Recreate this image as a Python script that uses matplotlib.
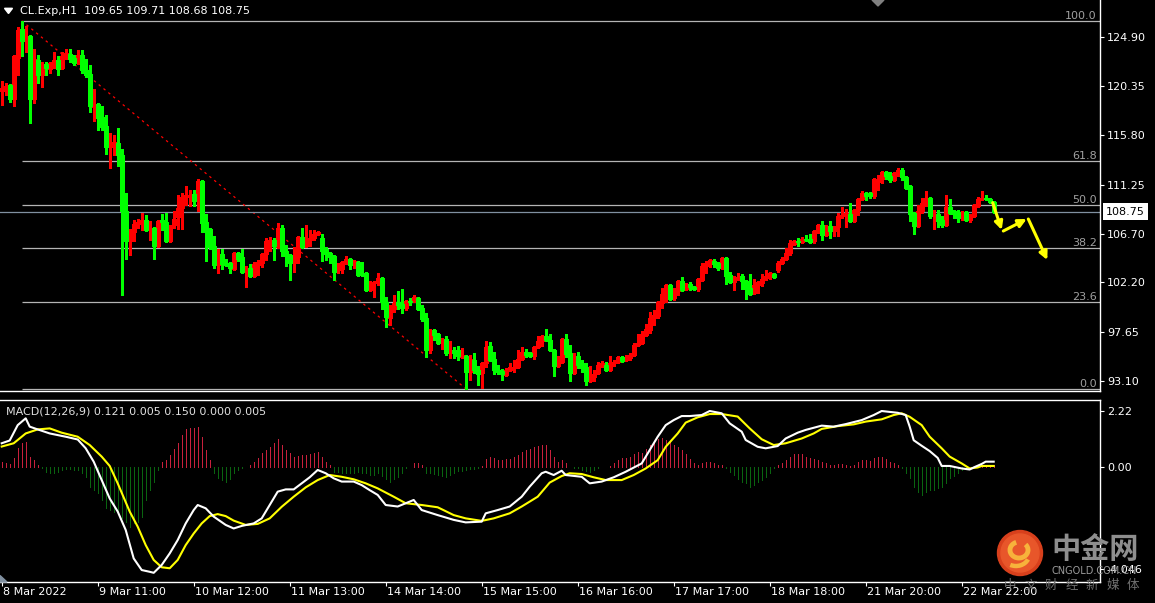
import numpy as np
import matplotlib.pyplot as plt
import matplotlib.transforms as mtransforms
from matplotlib.patches import Circle, Polygon, Arc

W, H = 1155, 603

# ---- H1 candles, CL.Exp, 8 Mar 2022 -> 22 Mar 2022 ----
opens = [
    119.9, 120.2, 120.5, 119.2, 123.0, 125.6, 124.5, 125.0, 119.2, 122.8,
    121.4, 122.4, 121.9, 122.4, 122.8, 122.0, 123.0, 123.3, 123.0, 122.6,
    123.2, 121.8, 121.5, 118.4, 118.7, 117.5, 116.7, 114.7, 115.1, 115.1,
    114.0, 108.8, 106.0, 106.9, 107.6, 107.6, 108.0, 107.1, 107.2, 105.6,
    108.0, 107.8, 106.0, 107.5, 108.2, 109.1, 110.1, 110.1, 110.4, 109.7,
    111.6, 107.8, 107.1, 105.6, 103.8, 104.8, 104.0, 104.0, 103.4, 104.9,
    104.5, 103.2, 103.5, 102.8, 103.8, 104.0, 104.8, 105.9, 106.1, 105.5,
    107.2, 105.1, 104.7, 104.0, 104.5, 106.4, 105.6, 106.1, 106.3, 106.7,
    106.3, 105.3, 104.9, 104.6, 103.3, 103.4, 104.0, 104.4, 103.9, 104.1,
    103.0, 103.1, 101.5, 102.1, 102.2, 102.6, 100.4, 98.9, 99.7, 100.4,
    100.2, 99.8, 100.5, 100.5, 100.75, 99.8, 98.9, 95.9, 97.8, 97.4,
    96.65, 97.0, 95.7, 95.9, 95.9, 95.3, 95.4, 93.9, 95.05, 94.1,
    93.8, 94.7, 96.3, 95.1, 94.1, 94.0, 93.6, 94.1, 94.3, 94.4,
    95.15, 95.8, 95.65, 95.4, 96.2, 96.75, 97.2, 96.9, 95.95, 94.5,
    94.8, 97.0, 95.7, 93.8, 95.4, 94.75, 94.35, 93.1, 93.45, 93.8,
    94.6, 94.6, 94.1, 94.7, 94.8, 95.3, 95.0, 95.2, 95.45, 96.45,
    96.6, 97.35, 97.8, 98.9, 99.05, 100.3, 101.05, 101.98, 100.75, 101.36,
    102.3, 101.6, 102.04, 101.8, 101.58, 102.44, 103.73, 103.98, 104.2, 103.98,
    103.52, 104.44, 102.9, 102.2, 102.75, 102.81, 102.35, 101.67, 101.2, 101.98,
    102.13, 102.6, 102.66, 103.0, 103.37, 103.98, 104.35, 104.9, 105.74, 106.04,
    105.9, 106.2, 106.24, 105.99, 106.82, 107.53, 106.54, 107.44, 106.91, 107.31,
    108.36, 108.45, 108.55, 107.9, 108.92, 109.9, 110.46, 110.46, 110.15, 111.53,
    111.75, 112.37, 112.06, 111.69, 112.3, 112.61, 111.93, 111.07, 108.61, 107.38,
    108.76, 109.38, 109.99, 108.36, 108.55, 107.99, 107.53, 109.16, 108.76, 108.67,
    108.15, 108.7, 107.99, 108.36, 109.22, 109.93, 109.99, 109.9, 109.65,
]
highs = [
    120.8, 120.6, 120.5, 123.2, 125.8, 126.4, 125.9, 125.1, 123.8, 123.2,
    122.6, 122.6, 122.6, 123.5, 123.1, 123.5, 123.8, 123.8, 123.2, 123.7,
    123.7, 122.9, 122.3, 120.1, 118.8, 118.5, 117.7, 116.0, 115.8, 116.5,
    114.5, 110.5, 107.1, 108.0, 108.1, 108.6, 108.4, 107.9, 107.2, 108.0,
    108.5, 108.6, 107.5, 108.8, 110.3, 110.5, 111.1, 110.7, 110.7, 111.8,
    111.6, 108.5, 107.1, 106.5, 105.3, 105.3, 104.4, 104.0, 104.9, 104.9,
    105.3, 103.7, 103.9, 104.1, 104.3, 104.9, 106.3, 106.4, 106.3, 107.7,
    107.5, 105.7, 104.8, 105.5, 106.5, 107.2, 107.5, 107.0, 107.0, 106.85,
    106.7, 105.5, 104.9, 104.7, 104.0, 104.1, 104.6, 104.4, 104.3, 104.2,
    104.1, 103.1, 102.2, 102.2, 103.1, 102.6, 100.8, 100.1, 101.0, 101.4,
    101.6, 100.5, 100.75, 101.05, 100.75, 100.1, 99.4, 97.8, 97.9, 97.4,
    97.0, 97.2, 96.8, 96.2, 96.3, 96.1, 95.5, 95.5, 95.7, 94.5,
    94.7, 96.8, 96.65, 95.8, 94.6, 94.2, 94.3, 94.7, 95.05, 95.9,
    96.2, 96.0, 95.7, 96.35, 97.2, 97.35, 97.9, 97.4, 95.95, 95.4,
    96.96, 97.4, 96.4, 95.7, 95.8, 95.0, 94.75, 94.5, 94.1, 94.8,
    94.9, 94.8, 95.4, 95.0, 95.4, 95.4, 95.5, 95.7, 96.6, 97.4,
    97.7, 98.35, 99.45, 99.6, 100.45, 101.7, 102.07, 102.04, 101.67, 102.35,
    102.66, 102.13, 102.2, 101.9, 102.5, 103.98, 104.2, 104.38, 104.38, 104.04,
    104.44, 104.44, 103.15, 102.75, 103.06, 102.97, 102.35, 102.97, 102.5, 102.3,
    102.97, 103.37, 103.15, 103.06, 104.13, 104.53, 105.37, 106.14, 106.04, 106.3,
    106.36, 106.6, 106.67, 107.07, 107.62, 107.84, 107.53, 107.84, 107.44, 108.61,
    109.16, 108.98, 109.53, 108.98, 109.99, 110.61, 110.46, 110.46, 111.84, 112.15,
    112.52, 112.52, 112.37, 112.37, 112.77, 112.77, 111.99, 111.13, 108.61, 109.38,
    109.99, 110.67, 110.06, 108.92, 108.92, 108.3, 110.3, 109.9, 108.92, 108.92,
    108.82, 108.76, 108.55, 109.44, 110.06, 110.67, 110.3, 109.99, 109.71,
]
lows = [
    118.6, 119.5, 118.9, 118.5, 121.4, 123.1, 123.5, 116.9, 118.8, 120.6,
    120.3, 121.4, 121.6, 122.0, 121.4, 121.9, 122.9, 122.6, 122.3, 122.4,
    121.6, 121.2, 118.0, 117.1, 116.3, 116.3, 114.1, 112.8, 114.0, 113.0,
    101.0, 104.4, 104.7, 106.0, 107.2, 107.0, 107.0, 106.1, 104.4, 105.6,
    107.0, 105.9, 106.0, 107.2, 107.1, 107.1, 109.4, 109.3, 109.3, 108.8,
    106.9, 104.2, 105.3, 103.5, 103.1, 103.4, 103.7, 103.1, 103.4, 104.2,
    103.1, 101.8, 102.8, 102.8, 102.9, 103.6, 104.3, 105.1, 104.3, 105.4,
    104.6, 103.7, 102.4, 103.2, 104.0, 105.5, 105.5, 105.6, 106.1, 106.6,
    104.2, 104.3, 104.0, 102.4, 103.1, 103.1, 103.9, 103.4, 103.5, 102.8,
    102.8, 101.4, 101.5, 100.8, 102.0, 99.7, 98.1, 98.3, 99.5, 99.7,
    99.4, 99.6, 100.1, 100.45, 99.7, 98.6, 95.3, 95.7, 96.9, 96.6,
    96.0, 95.5, 95.2, 95.2, 95.05, 95.2, 92.37, 93.2, 93.8, 92.7,
    92.4, 94.4, 94.9, 93.7, 93.7, 93.2, 93.5, 94.0, 93.9, 94.3,
    95.05, 95.3, 95.3, 95.15, 96.2, 96.3, 96.75, 95.9, 93.5, 94.4,
    94.8, 95.3, 93.05, 93.7, 94.3, 93.9, 92.7, 92.95, 93.05, 93.7,
    94.4, 94.1, 94.1, 94.45, 94.75, 94.95, 94.95, 95.0, 95.35, 96.3,
    96.55, 97.25, 97.5, 98.3, 98.9, 99.8, 100.35, 100.6, 100.6, 101.05,
    101.5, 101.5, 101.5, 101.45, 101.4, 102.3, 103.06, 103.6, 103.6, 103.3,
    103.52, 102.07, 102.2, 101.52, 102.38, 101.61, 100.68, 101.15, 101.2, 101.2,
    101.9, 102.44, 102.5, 102.69, 103.12, 103.98, 104.29, 104.75, 105.61, 105.6,
    105.84, 106.05, 105.84, 105.84, 106.76, 106.14, 106.45, 106.3, 106.51, 106.51,
    108.15, 107.31, 107.75, 107.84, 108.45, 109.84, 109.84, 110.0, 110.0, 110.76,
    111.38, 111.75, 111.47, 111.63, 112.06, 111.63, 110.83, 107.84, 106.67, 107.28,
    108.61, 109.28, 108.15, 107.13, 107.31, 107.28, 107.44, 108.52, 108.15, 107.75,
    107.93, 107.99, 107.78, 108.3, 109.13, 109.84, 109.84, 109.53, 108.68,
]
closes = [
    120.2, 120.4, 119.2, 123.1, 125.5, 124.5, 124.9, 119.2, 122.9, 121.4,
    122.4, 122.0, 122.5, 122.8, 121.9, 123.1, 123.4, 122.9, 122.5, 123.2,
    121.8, 121.4, 118.5, 118.7, 117.4, 116.6, 114.7, 115.1, 115.2, 114.0,
    108.8, 106.0, 107.0, 107.6, 107.8, 108.0, 107.0, 107.2, 105.6, 107.9,
    107.8, 106.0, 107.4, 108.1, 109.1, 110.1, 110.3, 110.3, 109.7, 111.6,
    107.7, 106.9, 105.5, 103.8, 104.8, 103.9, 103.8, 103.5, 104.9, 104.4,
    103.2, 103.5, 102.8, 103.9, 104.1, 104.8, 106.0, 106.1, 105.6, 107.2,
    105.1, 104.6, 104.0, 104.6, 106.4, 105.5, 106.1, 106.3, 106.7, 106.85,
    105.1, 104.8, 104.5, 103.2, 103.6, 104.1, 104.4, 103.8, 104.2, 102.9,
    102.9, 101.5, 102.2, 102.2, 102.6, 100.4, 99.0, 99.7, 100.3, 100.1,
    99.8, 100.5, 100.35, 100.85, 99.75, 98.8, 95.9, 97.8, 97.3, 96.6,
    96.95, 95.7, 95.9, 95.7, 95.4, 95.5, 93.9, 95.1, 94.1, 93.7,
    94.7, 96.2, 95.05, 94.1, 93.9, 93.7, 94.1, 94.35, 94.4, 95.15,
    95.75, 95.5, 95.4, 96.2, 96.8, 97.2, 96.85, 95.9, 94.5, 94.9,
    96.96, 95.6, 93.8, 95.4, 94.6, 94.3, 93.1, 93.5, 93.75, 94.6,
    94.75, 94.1, 94.75, 94.85, 95.3, 94.95, 95.2, 95.5, 96.45, 96.6,
    97.45, 97.9, 98.9, 99.2, 100.35, 101.1, 101.98, 100.65, 101.4, 102.3,
    101.5, 102.07, 101.73, 101.6, 102.5, 103.73, 103.98, 104.23, 103.92, 103.52,
    104.44, 102.81, 102.2, 102.66, 102.81, 102.29, 101.58, 101.15, 101.98, 102.2,
    102.53, 102.75, 103.06, 102.69, 103.98, 104.35, 104.9, 105.83, 105.98, 105.9,
    106.2, 106.14, 105.93, 106.91, 107.53, 106.6, 107.44, 106.91, 107.31, 108.36,
    108.45, 108.61, 107.9, 108.92, 109.93, 110.46, 110.21, 110.15, 111.75, 111.75,
    112.37, 112.0, 111.63, 112.3, 112.61, 111.93, 110.92, 108.52, 107.38, 108.76,
    109.53, 109.99, 108.36, 108.55, 107.9, 107.53, 109.16, 108.61, 108.55, 108.15,
    108.7, 107.99, 108.45, 109.32, 109.93, 109.99, 109.93, 109.6, 108.75,
]

# ---- MACD(12,26,9): white / yellow lines read at turning points, histogram per bar ----
dif_idx = [0, 2, 4, 6, 7, 9, 12, 16, 19, 21, 23, 25, 27, 29, 31, 33, 35, 37, 38, 40,
           42, 44, 46, 48, 49, 51, 53, 56, 58, 60, 63, 65, 67, 69, 71, 73, 75, 77, 79, 81,
           83, 85, 88, 90, 92, 94, 96, 99, 103, 105, 109, 113, 116, 120, 121, 124, 127, 130, 132, 135,
           136, 138, 140, 141, 145, 147, 150, 153, 156, 160, 162, 164, 166, 168, 170, 172, 175, 177, 180, 182,
           185, 186, 189, 191, 194, 196, 199, 201, 205, 208, 211, 215, 218, 220, 224, 226, 227, 228, 230, 232,
           234, 235, 237, 240, 242, 243, 245, 246, 248]
dif_vals = [0.93, 1.04, 1.65, 1.92, 1.59, 1.48, 1.32, 1.19, 1.08, 0.73, 0.20, -0.53, -1.26, -1.78, -2.51, -3.64, -4.10, -4.17, -4.21, -3.90,
            -3.44, -2.91, -2.25, -1.72, -1.52, -1.65, -1.98, -2.31, -2.45, -2.35, -2.25, -2.05, -1.52, -0.99, -0.90, -0.90, -0.66, -0.42, -0.13, -0.26,
            -0.46, -0.59, -0.59, -0.73, -0.93, -1.12, -1.52, -1.58, -1.32, -1.72, -1.92, -2.11, -2.21, -2.18, -1.85, -1.72, -1.58, -1.19, -0.79, -0.26,
            -0.20, -0.33, -0.16, -0.33, -0.40, -0.66, -0.59, -0.42, -0.20, 0.13, 0.66, 1.19, 1.65, 1.85, 2.01, 2.01, 2.05, 2.21, 2.12, 1.72,
            1.39, 1.06, 0.79, 0.73, 0.82, 1.12, 1.35, 1.46, 1.63, 1.59, 1.69, 1.85, 2.05, 2.21, 2.14, 2.05, 1.59, 1.05, 0.83, 0.62,
            0.35, 0.03, 0.03, -0.07, -0.11, -0.03, 0.11, 0.20, 0.20]
dea_idx = [0, 3, 6, 9, 12, 15, 19, 22, 25, 27, 29, 32, 34, 36, 38, 40, 42, 44, 46, 48,
           50, 52, 54, 56, 58, 61, 64, 67, 70, 73, 76, 79, 82, 85, 88, 91, 94, 98, 101, 105,
           109, 113, 116, 120, 123, 127, 130, 134, 137, 140, 142, 145, 148, 151, 155, 158, 161, 164, 166, 169,
           171, 174, 177, 180, 184, 187, 190, 193, 196, 200, 203, 205, 209, 213, 216, 220, 223, 225, 227, 230,
           232, 235, 237, 240, 242, 244, 245, 248]
dea_vals = [0.80, 0.93, 1.32, 1.48, 1.52, 1.35, 1.19, 0.86, 0.40, 0.03, -0.66, -1.78, -2.38, -3.11, -3.70, -3.99, -4.03, -3.70, -3.11, -2.65,
            -2.25, -1.96, -1.88, -1.96, -2.14, -2.31, -2.27, -2.05, -1.59, -1.19, -0.82, -0.53, -0.33, -0.40, -0.50, -0.66, -0.86, -1.19, -1.45, -1.52,
            -1.61, -1.92, -2.05, -2.15, -2.05, -1.85, -1.58, -1.19, -0.63, -0.37, -0.26, -0.29, -0.42, -0.53, -0.53, -0.33, -0.07, 0.26, 0.79, 1.32,
            1.75, 1.96, 2.09, 2.09, 1.99, 1.52, 1.09, 0.86, 0.93, 1.12, 1.32, 1.50, 1.61, 1.68, 1.79, 1.88, 2.05, 2.12, 1.98, 1.65,
            1.19, 0.73, 0.40, 0.13, -0.07, -0.03, 0.03, 0.03]
hist_vals = [
    0.20, 0.13, 0.11, 0.33, 0.73, 0.93, 1.00, 0.40, 0.26, 0.07,
    -0.07, -0.20, -0.26, -0.26, -0.20, -0.13, -0.11, -0.11, -0.13, -0.13,
    -0.26, -0.40, -0.79, -0.93, -1.06, -1.32, -1.65, -1.72, -1.78, -1.85,
    -2.05, -2.18, -2.38, -2.25, -2.18, -1.98, -1.32, -0.93, -0.60, -0.13,
    0.20, 0.26, 0.46, 0.69, 0.93, 1.26, 1.48, 1.52, 1.52, 1.59,
    1.19, 0.66, 0.26, -0.26, -0.46, -0.53, -0.60, -0.50, -0.26, -0.13,
    -0.07, -0.03, 0.07, 0.20, 0.33, 0.53, 0.66, 0.79, 0.93, 1.09,
    0.86, 0.66, 0.53, 0.40, 0.42, 0.46, 0.46, 0.50, 0.53, 0.60,
    0.40, 0.20, 0.07, -0.20, -0.20, -0.24, -0.24, -0.24, -0.26, -0.20,
    -0.26, -0.26, -0.33, -0.33, -0.26, -0.35, -0.50, -0.60, -0.50, -0.40,
    -0.24, -0.07, 0.00, 0.16, 0.16, 0.07, -0.24, -0.26, -0.29, -0.33,
    -0.37, -0.40, -0.33, -0.26, -0.17, -0.16, -0.13, -0.11, -0.08, -0.04,
    0.03, 0.29, 0.37, 0.33, 0.26, 0.26, 0.29, 0.29, 0.37, 0.46,
    0.60, 0.66, 0.69, 0.77, 0.83, 0.86, 0.86, 0.66, 0.37, 0.20,
    0.26, 0.16, 0.00, -0.04, -0.07, -0.13, -0.16, -0.20, -0.13, -0.04,
    -0.03, 0.00, 0.04, 0.16, 0.26, 0.33, 0.33, 0.37, 0.50, 0.60,
    0.53, 0.69, 0.86, 0.96, 1.09, 1.12, 1.06, 0.99, 0.86, 0.79,
    0.66, 0.50, 0.29, 0.13, 0.07, 0.16, 0.19, 0.19, 0.16, 0.07,
    0.07, -0.07, -0.20, -0.33, -0.50, -0.60, -0.66, -0.82, -0.73, -0.60,
    -0.53, -0.42, -0.26, -0.07, 0.07, 0.16, 0.26, 0.37, 0.50, 0.50,
    0.50, 0.37, 0.33, 0.29, 0.26, 0.20, 0.13, 0.07, 0.07, 0.11,
    0.11, 0.07, 0.03, 0.07, 0.20, 0.26, 0.26, 0.24, 0.33, 0.37,
    0.37, 0.29, 0.20, 0.13, 0.07, -0.07, -0.26, -0.46, -0.79, -0.99,
    -1.12, -0.99, -0.93, -0.93, -0.86, -0.79, -0.66, -0.46, -0.37, -0.26,
    -0.13, -0.04, -0.03, 0.00, 0.03, 0.05, 0.07, 0.08, 0.07,
]
macd_legend = "MACD(12,26,9) 0.121 0.005 0.150 0.000 0.005"

# fibonacci retracement anchored on the 8 Mar high and 15 Mar low
fib_hi_bar, fib_lo_bar = 5, 116
fib_ratios = [0.0, 23.6, 38.2, 50.0, 61.8, 100.0]
bid = 108.75

# hand-drawn forecast arrows (bar index, price): start -> end
arrow_x0 = [247.75, 250.4, 256.65]
arrow_y0 = [109.57, 106.95, 108.06]
arrow_x1 = [250.0, 256.25, 261.4]
arrow_y1 = [107.05, 108.06, 104.27]

price_ticks = [124.90, 120.35, 115.80, 111.25, 106.70, 102.20, 97.65, 93.10]
macd_ticks = [2.22, 0.00, -4.046]
macd_tick_labels = ["2.22", "0.00", "-4.046"]
time_idx = [0, 24, 48, 72, 96, 120, 144, 168, 192, 216, 240]
time_labels = ["8 Mar 2022", "9 Mar 11:00", "10 Mar 12:00", "11 Mar 13:00", "14 Mar 14:00",
               "15 Mar 15:00", "16 Mar 16:00", "17 Mar 17:00", "18 Mar 18:00",
               "21 Mar 20:00", "22 Mar 22:00"]

plt.rcParams['font.family'] = ['DejaVu Sans']
fs = 8

fig = plt.figure(figsize=(W / 100, H / 100), dpi=100, facecolor='black')


def px_axes(x0, y0, x1, y1, **kw):
    return fig.add_axes([x0 / W, 1 - y1 / H, (x1 - x0) / W, (y1 - y0) / H], **kw)


# bar i sits at pixel 1.7 + 4*i, plot area is 1100 px wide
xmin, xmax = -0.425, 274.575

# ===== price panel =====
ax = px_axes(0, 0, 1100, 391, facecolor='black')
o, h, l, c = (np.array(a) for a in (opens, highs, lows, closes))
idx = np.arange(len(c))
up = c >= o
col = np.where(up, '#FF0000', '#00FF00')
ax.vlines(idx, l, h, colors=col, lw=0.75, zorder=2, antialiased=False)
body_lo = np.minimum(o, c)
body_h = np.maximum(np.abs(c - o), 0.03)
# bullish bars are hollow (red outline), bearish bars solid green
ax.bar(idx[up], body_h[up], bottom=body_lo[up], width=0.55, facecolor='black',
       edgecolor='#FF0000', lw=0.75, zorder=3, antialiased=False)
ax.bar(idx[~up], body_h[~up], bottom=body_lo[~up], width=0.5, facecolor='#00FF00',
       edgecolor='#00FF00', lw=0.75, zorder=3, antialiased=False)

fib_hi = highs[fib_hi_bar]
fib_lo = lows[fib_lo_bar]
for r in fib_ratios:
    lev = fib_lo + r / 100 * (fib_hi - fib_lo)
    ax.hlines(lev, fib_hi_bar, xmax, color='#B4B4B4', lw=0.9, zorder=1)
    ax.text(0.997, lev, f"{r:.1f}", transform=ax.get_yaxis_transform(), ha='right',
            va='bottom', color='#A0A0A0', fontsize=fs)
ax.plot([fib_hi_bar, fib_lo_bar], [fib_hi, fib_lo], color='#FF0000', lw=0.9,
        ls=(0, (2, 3)), zorder=1)
ax.axhline(bid, color='#8090A0', lw=0.9, zorder=1)

for x0, y0, x1, y1 in zip(arrow_x0, arrow_y0, arrow_x1, arrow_y1):
    ax.annotate('', xy=(x1, y1), xytext=(x0, y0),
                arrowprops=dict(arrowstyle='-|>', color='#FFFF00', lw=2.2,
                                mutation_scale=12, shrinkA=0, shrinkB=0), zorder=5)

ax.set_xlim(xmin, xmax)
ax.set_ylim(92.15, 128.32)
ax.set_xticks([])
ax.yaxis.tick_right()
ax.set_yticks(price_ticks)
ax.set_yticklabels([f"{v:.2f}" for v in price_ticks])
ax.tick_params(axis='y', colors='white', labelcolor='white', length=3, width=0.8,
               pad=2, labelsize=fs)
for s in ('top', 'left'):
    ax.spines[s].set_visible(False)
for s in ('right', 'bottom'):
    ax.spines[s].set_color('white')
    ax.spines[s].set_linewidth(1)
ax.text(1.0055, bid, "108.75", transform=ax.get_yaxis_transform(), ha='left', va='center',
        color='black', fontsize=fs, clip_on=False, zorder=6,
        bbox=dict(boxstyle='square,pad=0.3', fc='white', ec='none'))

# ===== MACD panel =====
ax2 = px_axes(0, 400, 1100, 582, facecolor='black')
hv = np.array(hist_vals)
ax2.vlines(np.arange(len(hv)), 0, hv, colors=np.where(hv >= 0, '#C8203C', '#0A6410'),
           lw=0.72, antialiased=False)
ax2.plot(dea_idx, dea_vals, color='#FFFF00', lw=1.5)
ax2.plot(dif_idx, dif_vals, color='white', lw=1.5)
ax2.set_xlim(xmin, xmax)
ax2.set_ylim(-4.575, 2.647)
ax2.yaxis.tick_right()
ax2.set_yticks(macd_ticks)
ax2.set_yticklabels(macd_tick_labels)
ax2.tick_params(axis='y', colors='white', labelcolor='white', length=3, width=0.8,
                pad=2, labelsize=fs)
ax2.set_xticks(time_idx)
ax2.set_xticklabels([])
ax2.tick_params(axis='x', colors='white', length=3, width=0.8, direction='out')
tr = mtransforms.blended_transform_factory(ax2.transData, ax2.transAxes)
for t, lab in zip(time_idx, time_labels):
    ax2.text(t + 0.4, -0.028, lab, transform=tr, ha='left', va='top', color='white',
             fontsize=fs, clip_on=False)
ax2.spines['left'].set_visible(False)
for s in ('top', 'right', 'bottom'):
    ax2.spines[s].set_color('white')
    ax2.spines[s].set_linewidth(1)

# ===== overlay: headers, markers, watermark =====
ov = fig.add_axes([0, 0, 1, 1], zorder=10)
ov.set_xlim(0, W)
ov.set_ylim(H, 0)
ov.axis('off')
ov.patch.set_alpha(0)

ov.add_patch(Polygon([[4.5, 8.3], [12.5, 8.3], [8.5, 13.5]], closed=True, color='white'))
header = f"CL.Exp,H1  {opens[-1]:.2f} {highs[-1]:.2f} {lows[-1]:.2f} {closes[-1]:.2f}"
ov.text(20, 11, header, color='white', fontsize=fs, va='center', ha='left')
ov.text(6, 412, macd_legend, color='#E0E0E0', fontsize=fs, va='center', ha='left')
ov.add_patch(Polygon([[872, 0], [884, 0], [878, 6]], closed=True, color='#808080'))
ov.add_patch(Polygon([[0, 575.5], [7, 582], [0, 582]], closed=True, color='#8090A0'))

# 中金网 watermark
cx, cy = 1020, 553
ov.add_patch(Circle((cx, cy), 22.5, color='#D8401C', zorder=1))
ov.add_patch(Circle((cx, cy), 19, color='#E8562A', zorder=1))
ov.add_patch(Arc((cx - 1, cy - 3), 18, 16, theta1=-40, theta2=250, lw=3.5,
                 color='#F7B23B', zorder=2))
ov.add_patch(Arc((cx - 4, cy + 2), 26, 22, theta1=20, theta2=120, lw=3.2,
                 color='#F7B23B', zorder=2))
cjk = ['Noto Sans CJK SC', 'DejaVu Sans']
ov.text(1095, 549, "中金网", family=cjk, fontsize=21, fontweight='bold', color='#8E8E8E',
        ha='center', va='center')
ov.text(1094, 571.5, "CNGOLD.COM.CN", fontsize=7, color='#9A9A9A', ha='center', va='center')
for k, ch in enumerate("中文财经新媒体"):
    ov.text(1010 + k * 20.5, 585, ch, family=cjk, fontsize=9, color='#707070',
            ha='center', va='center')

fig.savefig("out.png", dpi=100, facecolor='black')
